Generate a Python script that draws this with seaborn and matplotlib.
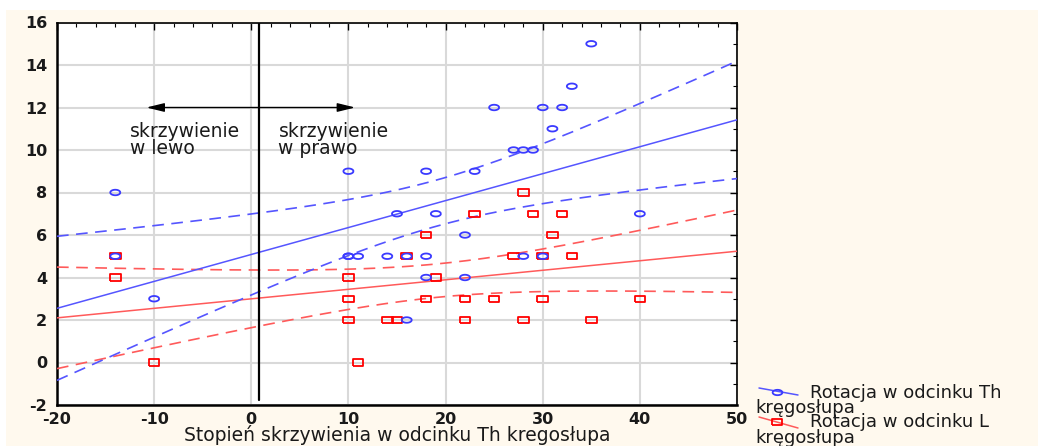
import numpy as np
import pandas as pd
import seaborn as sns
import matplotlib
matplotlib.use("Agg")
import matplotlib.pyplot as plt
from matplotlib.lines import Line2D
from matplotlib.patches import Rectangle
from matplotlib.ticker import MultipleLocator

# ---------------- data ----------------
th_x = [-14, -14, -10, 10, 10, 10, 11, 14, 15, 16, 16, 18, 18, 18, 19, 22, 22, 23,
        25, 27, 28, 28, 29, 30, 30, 31, 32, 33, 35, 40]
th_y = [8, 5, 3, 9, 5, 5, 5, 5, 7, 5, 2, 9, 5, 4, 7, 6, 4, 9,
        12, 10, 10, 5, 10, 12, 5, 11, 12, 13, 15, 7]

l_x = [-14, -14, -10, 10, 10, 10, 11, 14, 15, 16, 18, 18, 19, 22, 22, 23, 25,
       27, 28, 28, 29, 30, 30, 31, 32, 33, 35, 40]
l_y = [5, 4, 0, 4, 3, 2, 0, 2, 2, 5, 6, 3, 4, 3, 2, 7, 3,
       5, 8, 2, 7, 5, 3, 6, 7, 5, 2, 3]

x_ticks = [-20, -10, 0, 10, 20, 30, 40, 50]
y_ticks = [-2, 0, 2, 4, 6, 8, 10, 12, 14, 16]
x_lim = (-20, 50)
y_lim = (-2, 16)

label_th = "Rotacja w odcinku Th"
label_l = "Rotacja w odcinku L"
label_tail = "kręgosłupa"
x_label = "Stopień skrzywienia w odcinku Th kregosłupa"
left_text = "skrzywienie\nw lewo"
right_text = "skrzywienie\nw prawo"

divider_x = 0.8          # vertical separator
arrow_y = 12
arrow_left, arrow_right = -10.8, 10.7
t_crit = 2.05            # ~t(0.975, df~27)

# ---------------- style ----------------
sns.set_theme(style="white")
plt.rcParams['font.family'] = ['DejaVu Sans']
plt.rcParams['axes.unicode_minus'] = False

cream = '#FFF9EE'
blue_m = '#3a3aff'
blue_l = '#5555ff'
red_m = '#ff0000'
red_l = '#ff5a5a'
txt = '#1a1a1a'

W, H = 1038, 446
fig = plt.figure(figsize=(W / 100, H / 100), dpi=100)
fig.patch.set_facecolor('white')
fig.add_artist(Rectangle((6 / W, 0), 1, 1 - 10 / H, transform=fig.transFigure,
                         facecolor=cream, edgecolor='none', zorder=-10))

ax = fig.add_axes([57 / W, 1 - 405 / H, 680 / W, 382.5 / H])
ax.set_facecolor('white')

# markers (wide ellipse / wide rectangle as in the stretched original)
t = np.linspace(0, 2 * np.pi, 41)
ell = list(zip(np.cos(t), 0.55 * np.sin(t)))
rect = [(-1, -0.6), (1, -0.6), (1, 0.6), (-1, 0.6), (-1, -0.6)]

df_th = pd.DataFrame({'x': th_x, 'y': th_y})
df_l = pd.DataFrame({'x': l_x, 'y': l_y})


def fit_lines(df):
    x = df['x'].to_numpy(float)
    y = df['y'].to_numpy(float)
    n = len(x)
    b, a = np.polyfit(x, y, 1)
    res = y - (a + b * x)
    s = np.sqrt(np.sum(res ** 2) / (n - 2))
    xm = x.mean()
    sxx = np.sum((x - xm) ** 2)
    xs = np.linspace(x_lim[0], x_lim[1], 200)
    yh = a + b * xs
    se = s * np.sqrt(1 / n + (xs - xm) ** 2 / sxx)
    return xs, yh, yh - t_crit * se, yh + t_crit * se


for df, lc in ((df_l, red_l), (df_th, blue_l)):
    xs, yh, lo, hi = fit_lines(df)
    sns.lineplot(x=xs, y=yh, ax=ax, color=lc, lw=1.1, zorder=3)
    sns.lineplot(x=xs, y=lo, ax=ax, color=lc, lw=1.2, linestyle=(0, (7, 4.5)), zorder=3)
    sns.lineplot(x=xs, y=hi, ax=ax, color=lc, lw=1.2, linestyle=(0, (7, 4.5)), zorder=3)

sns.scatterplot(data=df_l, x='x', y='y', ax=ax, marker=rect, s=58,
                facecolor='none', edgecolor=red_m, linewidth=1.3, zorder=4)
sns.scatterplot(data=df_th, x='x', y='y', ax=ax, marker=ell, s=52,
                facecolor='none', edgecolor=blue_m, linewidth=1.3, zorder=5)

# separator and arrows
ax.axvline(divider_x, ymin=(-1.76 - y_lim[0]) / (y_lim[1] - y_lim[0]), ymax=1,
           color='black', lw=1.6, zorder=6)
arrow_kw = dict(arrowstyle='-|>,head_length=0.9,head_width=0.22', color='black',
                lw=1.0, mutation_scale=12, shrinkA=0, shrinkB=0)
ax.annotate('', xy=(arrow_left, arrow_y), xytext=(divider_x, arrow_y), arrowprops=arrow_kw, zorder=6)
ax.annotate('', xy=(arrow_right, arrow_y), xytext=(divider_x, arrow_y), arrowprops=arrow_kw, zorder=6)

ax.text(-12.5, 11.3, left_text, fontsize=13.5, color=txt, va='top', ha='left', linespacing=0.82)
ax.text(2.8, 11.3, right_text, fontsize=13.5, color=txt, va='top', ha='left', linespacing=0.82)

# axes
ax.set_xlim(*x_lim)
ax.set_ylim(*y_lim)
ax.set_xticks(x_ticks)
ax.set_yticks(y_ticks)
ax.xaxis.set_minor_locator(MultipleLocator(2))
ax.yaxis.set_minor_locator(MultipleLocator(1))
ax.grid(True, which='major', color='#d9d9d9', lw=1.5, zorder=0)
ax.set_axisbelow(True)
ax.tick_params(which='both', direction='in', top=True, right=True, color='black')
ax.tick_params(which='major', length=5, width=1, labelsize=11.5, labelcolor=txt)
ax.tick_params(which='minor', length=3, width=0.8)
ax.tick_params(axis='x', pad=5)
ax.tick_params(axis='y', pad=7)
for lbl in ax.get_xticklabels() + ax.get_yticklabels():
    lbl.set_fontweight('semibold')
for side in ('left', 'bottom'):
    ax.spines[side].set_linewidth(1.8)
    ax.spines[side].set_color('black')
for side in ('top', 'right'):
    ax.spines[side].set_linewidth(1.2)
    ax.spines[side].set_color('black')
ax.set_xlabel('')
ax.set_ylabel('')
fig.text(397 / W, 1 - 435 / H, x_label, ha='center', va='center', fontsize=13.5, color=txt)

# legend (manual, slanted handles like the original)
for (y0, y1, ym, ty, tty, lc, mc, mk, lab) in (
        (388, 395, 392, 393, 408, blue_l, blue_m, ell, label_th),
        (417, 428, 422, 422, 438, red_l, red_m, rect, label_l)):
    fig.add_artist(Line2D([759 / W, 798 / W], [1 - y0 / H, 1 - y1 / H], transform=fig.transFigure,
                          color=lc, lw=1.1))
    fig.add_artist(Line2D([777 / W], [1 - ym / H], transform=fig.transFigure, marker=mk,
                          markersize=7, markerfacecolor='none', markeredgecolor=mc,
                          markeredgewidth=1.3, linestyle='none'))
    fig.text(810 / W, 1 - ty / H, lab, ha='left', va='center', fontsize=13, color=txt)
    fig.text(755 / W, 1 - tty / H, label_tail, ha='left', va='center', fontsize=13, color=txt)

fig.savefig('out.png', dpi=100, facecolor=fig.get_facecolor())
